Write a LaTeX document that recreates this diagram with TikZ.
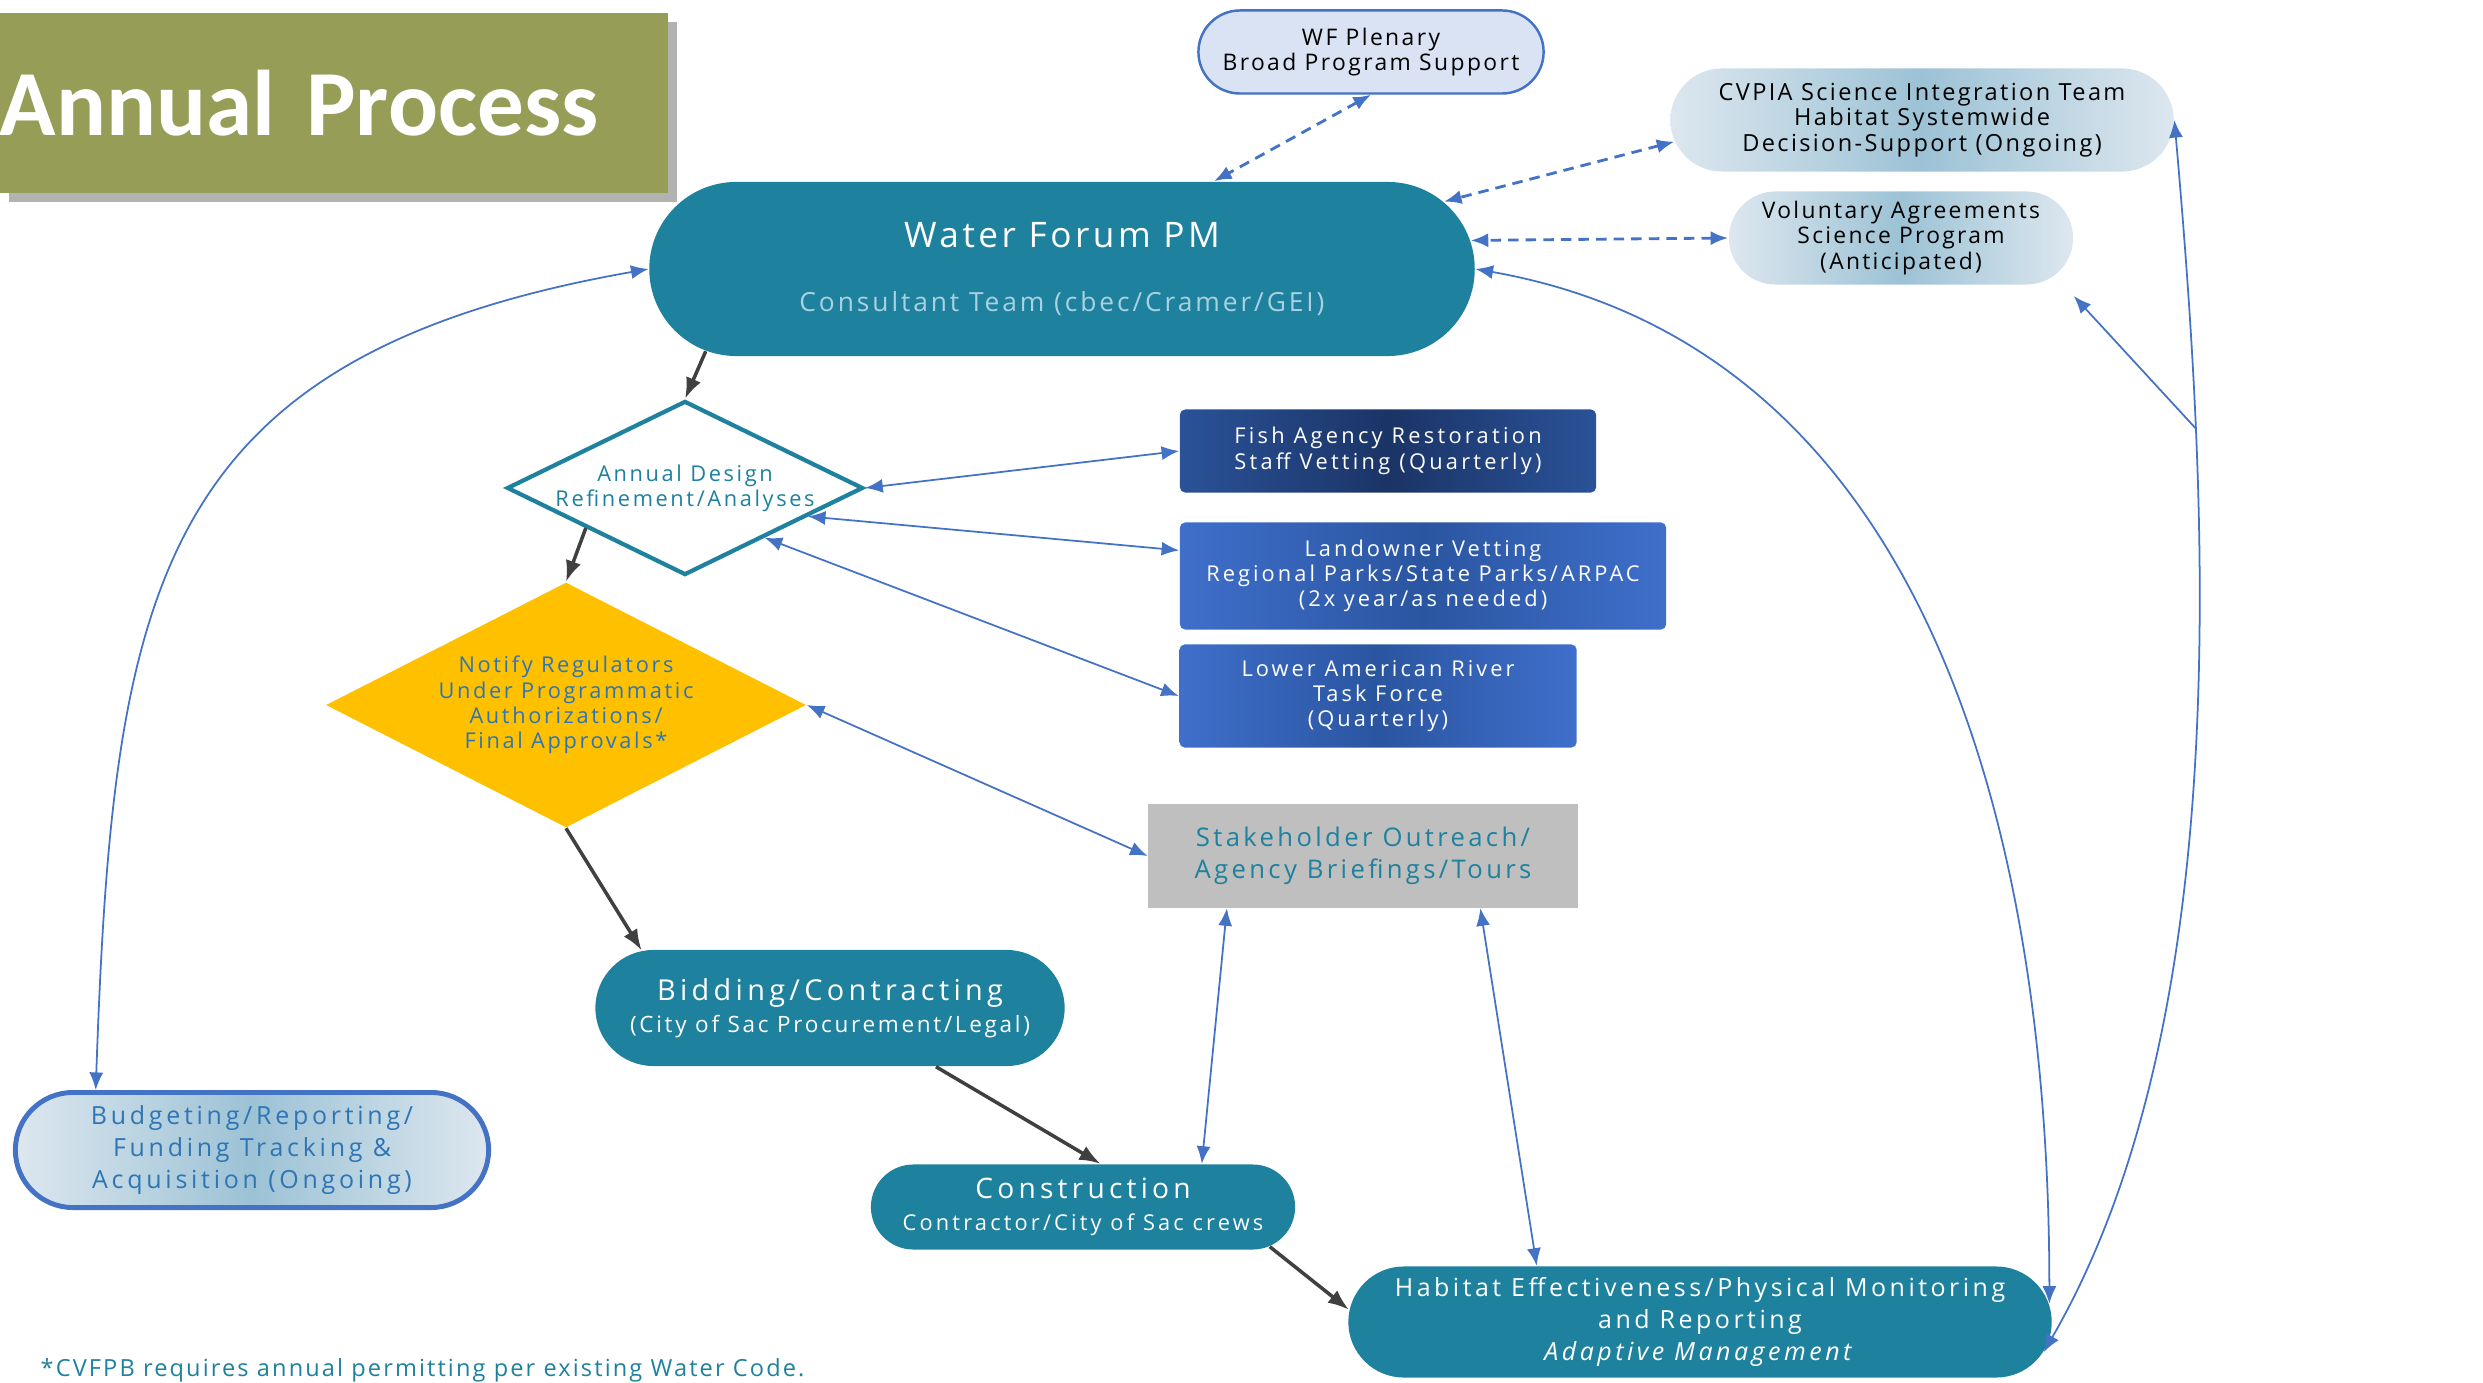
\documentclass[tikz,border=0pt]{standalone}
\usepackage{fontspec}
\setmainfont{Open Sans}[LetterSpace=8]
\newfontfamily\titlefont{Carlito}
\usepackage{xcolor}
\usetikzlibrary{shapes, arrows.meta, positioning, shadows}

\definecolor{wfteal}{HTML}{1E819E}
\definecolor{wflight}{HTML}{A9D1DF}
\definecolor{olivebar}{HTML}{959D57}
\definecolor{linkblue}{HTML}{4472C4}
\definecolor{flowgray}{HTML}{404040}
\definecolor{regold}{HTML}{FFC000}
\definecolor{regblue}{HTML}{2E75B6}
\definecolor{plenfill}{HTML}{DAE3F3}
\definecolor{fadeedge}{HTML}{DDE7EF}
\definecolor{fademid}{HTML}{9CC2D5}
\definecolor{navyedge}{HTML}{2A5298}
\definecolor{navymid}{HTML}{1B3466}
\definecolor{royaledge}{HTML}{3F6FCB}
\definecolor{royalmid}{HTML}{2A55A0}
\definecolor{outreach}{HTML}{BFBFBF}

% size, skip and letter spacing
\newcommand{\setfs}[3][8]{\fontsize{#2pt}{#3pt}\selectfont\addfontfeature{LetterSpace=#1}}

\tikzset{
	pill/.style={rounded rectangle, fill=wfteal, text=white, align=center, inner sep=0pt},
	fadepill/.style={rounded rectangle, left color=fadeedge, right color=fadeedge, middle color=fademid, align=center, inner sep=0pt},
	navybox/.style={rectangle, rounded corners=1.5pt, left color=navyedge, right color=navyedge, middle color=navymid, text=white, align=center, inner sep=0pt, font={\setfs[15]{6.2}{7.2}}},
	royalbox/.style={rectangle, rounded corners=1.5pt, left color=royaledge, right color=royaledge, middle color=royalmid, text=white, align=center, inner sep=0pt, font={\setfs[14]{6.2}{7.2}}},
	flow/.style={draw=flowgray, line width=1pt, -{Latex[length=6pt, width=4.5pt]}},
	link/.style={draw=linkblue, line width=0.5pt, {Latex[length=5pt, width=4pt]}-{Latex[length=5pt, width=4pt]}},
	dashlink/.style={link, line width=0.8pt, dash pattern=on 3pt off 2pt},
	oneway/.style={draw=linkblue, line width=0.5pt, -{Latex[length=5pt, width=4pt]}}
}

\begin{document}
\begin{tikzpicture}[x=0.01cm, y=0.01cm]
	\useasboundingbox (0,0) rectangle (2483,-1383);
	% Title banner
	\node[rectangle,
	fill=olivebar,
	drop shadow={shadow xshift=2.5pt, shadow yshift=-2.5pt, fill=black, opacity=0.3},
	minimum width=6.68cm,
	minimum height=1.8cm,
	text width=6.68cm,
	align=left,
	inner sep=0pt,
	text=white,
	font={\titlefont\bfseries\setfs[0]{26.5}{30}}] (title) at (334,-103) {Annual Process};
	% Program manager
	\node[pill,
	minimum width=8.25cm,
	minimum height=1.74cm,
	font={\setfs[11]{7.5}{18}}] (wfpm) at (1062,-269) {{\setfs[10]{10}{12}Water Forum PM}\\\textcolor{wflight}{Consultant Team (cbec/Cramer/GEI)}};
	% Outside groups
	\node[rounded rectangle,
	draw=linkblue,
	line width=0.7pt,
	fill=plenfill,
	align=center,
	inner sep=0pt,
	minimum width=3.45cm,
	minimum height=0.83cm,
	font={\setfs[10.5]{6.5}{7.2}}] (plenary) at (1371,-52) {WF Plenary\\Broad Program Support};
	\node[fadepill,
	minimum width=5.03cm,
	minimum height=1.03cm,
	font={\setfs[10]{6.7}{7.2}}] (cvpia) at (1922,-120) {CVPIA Science Integration Team\\Habitat Systemwide\\Decision-Support (Ongoing)};
	\node[fadepill,
	minimum width=3.44cm,
	minimum height=0.93cm,
	font={\setfs[10]{6.5}{7.2}}] (vol) at (1901,-238) {Voluntary Agreements\\Science Program\\(Anticipated)};
	% Design diamond
	\node[diamond,
	aspect=2.05,
	draw=wfteal,
	line width=1.2pt,
	fill=white,
	inner sep=0pt,
	align=center,
	minimum width=3.56cm,
	minimum height=1.74cm,
	text=wfteal,
	font={\setfs[12]{6.2}{7.2}}] (design) at (685,-488) {Annual Design\\Refinement/Analyses};
	% Regulators diamond
	\node[diamond,
	aspect=1.96,
	fill=regold,
	inner sep=0pt,
	align=center,
	minimum width=4.8cm,
	minimum height=2.45cm,
	text=regblue,
	font={\setfs[12]{6.2}{7.2}}] (notify) at (566,-705) {Notify Regulators\\Under Programmatic\\Authorizations/\\Final Approvals*};
	% Vetting groups
	\node[navybox,
	minimum width=4.16cm,
	minimum height=0.83cm] (fish) at (1388,-451) {Fish Agency Restoration\\Staff Vetting (Quarterly)};
	\node[royalbox,
	minimum width=4.86cm,
	minimum height=1.07cm] (land) at (1423,-576) {Landowner Vetting\\Regional Parks/State Parks/ARPAC\\(2x year/as needed)};
	\node[royalbox,
	minimum width=3.97cm,
	minimum height=1.03cm] (lower) at (1378,-696) {Lower American River\\Task Force\\(Quarterly)};
	\node[rectangle,
	fill=outreach,
	align=center,
	inner sep=0pt,
	minimum width=4.29cm,
	minimum height=1.03cm,
	text=wfteal,
	font={\setfs[13]{7.3}{9}}] (stake) at (1363,-856) {Stakeholder Outreach/\\Agency Briefings/Tours};
	% Delivery steps
	\node[pill,
	minimum width=4.69cm,
	minimum height=1.16cm,
	font={\setfs[12]{6.4}{9}}] (bidding) at (830,-1008) {{\setfs[15]{8.2}{9}Bidding/Contracting}\\(City of Sac Procurement/Legal)};
	\node[pill,
	minimum width=4.24cm,
	minimum height=0.85cm,
	font={\setfs[14.5]{6.2}{9}}] (build) at (1083,-1207) {{\setfs[15]{8}{9}Construction}\\Contractor/City of Sac crews};
	\node[pill,
	minimum width=7.03cm,
	minimum height=1.11cm,
	font={\setfs[14]{7.1}{9}}] (habitat) at (1700,-1322) {Habitat Effectiveness/Physical Monitoring\\and Reporting\\\textit{Adaptive Management}};
	% Budget
	\node[fadepill,
	draw=linkblue,
	line width=1.4pt,
	minimum width=4.73cm,
	minimum height=1.15cm,
	text=regblue,
	font={\setfs[15]{7.1}{9}}] (budget) at (252,-1150) {Budgeting/Reporting/\\Funding Tracking \&\\Acquisition (Ongoing)};
	% Footnote
	\node[anchor=west, inner sep=0pt, text=wfteal, font={\setfs[9]{6.7}{8}}] (note) at (40,-1370) {*CVFPB requires annual permitting per existing Water Code.};
	% Main flow
	\path (wfpm.193) edge[flow] (design.north)
	(design.202) edge[flow] (notify.north)
	(notify.south) edge[flow] (bidding.163)
	(bidding.331) edge[flow] (build.68)
	(build.348) edge[flow] (habitat.178);
	% Dashed links
	\draw[dashlink] (plenary.south) -- (wfpm.30);
	\draw[dashlink] (cvpia.185) -- (wfpm.10.5);
	\draw[dashlink] (vol.west) -- (wfpm.4);
	% Review links
	\draw[link] (design.east) -- (fish.west);
	\draw[link] (design.347) -- (land.174);
	\draw[link] (design.328.5) -- (lower.west);
	\draw[link] (notify.east) -- (stake.west);
	\draw[link] (stake.201) -- (build.20);
	\draw[link] (stake.336) -- (habitat.161);
	% Long curves
	\draw[link] (budget.159) to[out=88, in=190, looseness=1.3] (wfpm.west);
	\draw[link] (wfpm.east) to[out=-10, in=90] (habitat.3);
	\draw[link] (habitat.355) to[out=60, in=-85, looseness=0.8] coordinate[pos=0.75] (brk) (cvpia.east);
	\draw[oneway] (brk) -- ([yshift=-0.58cm]vol.east);
\end{tikzpicture}
\end{document}
